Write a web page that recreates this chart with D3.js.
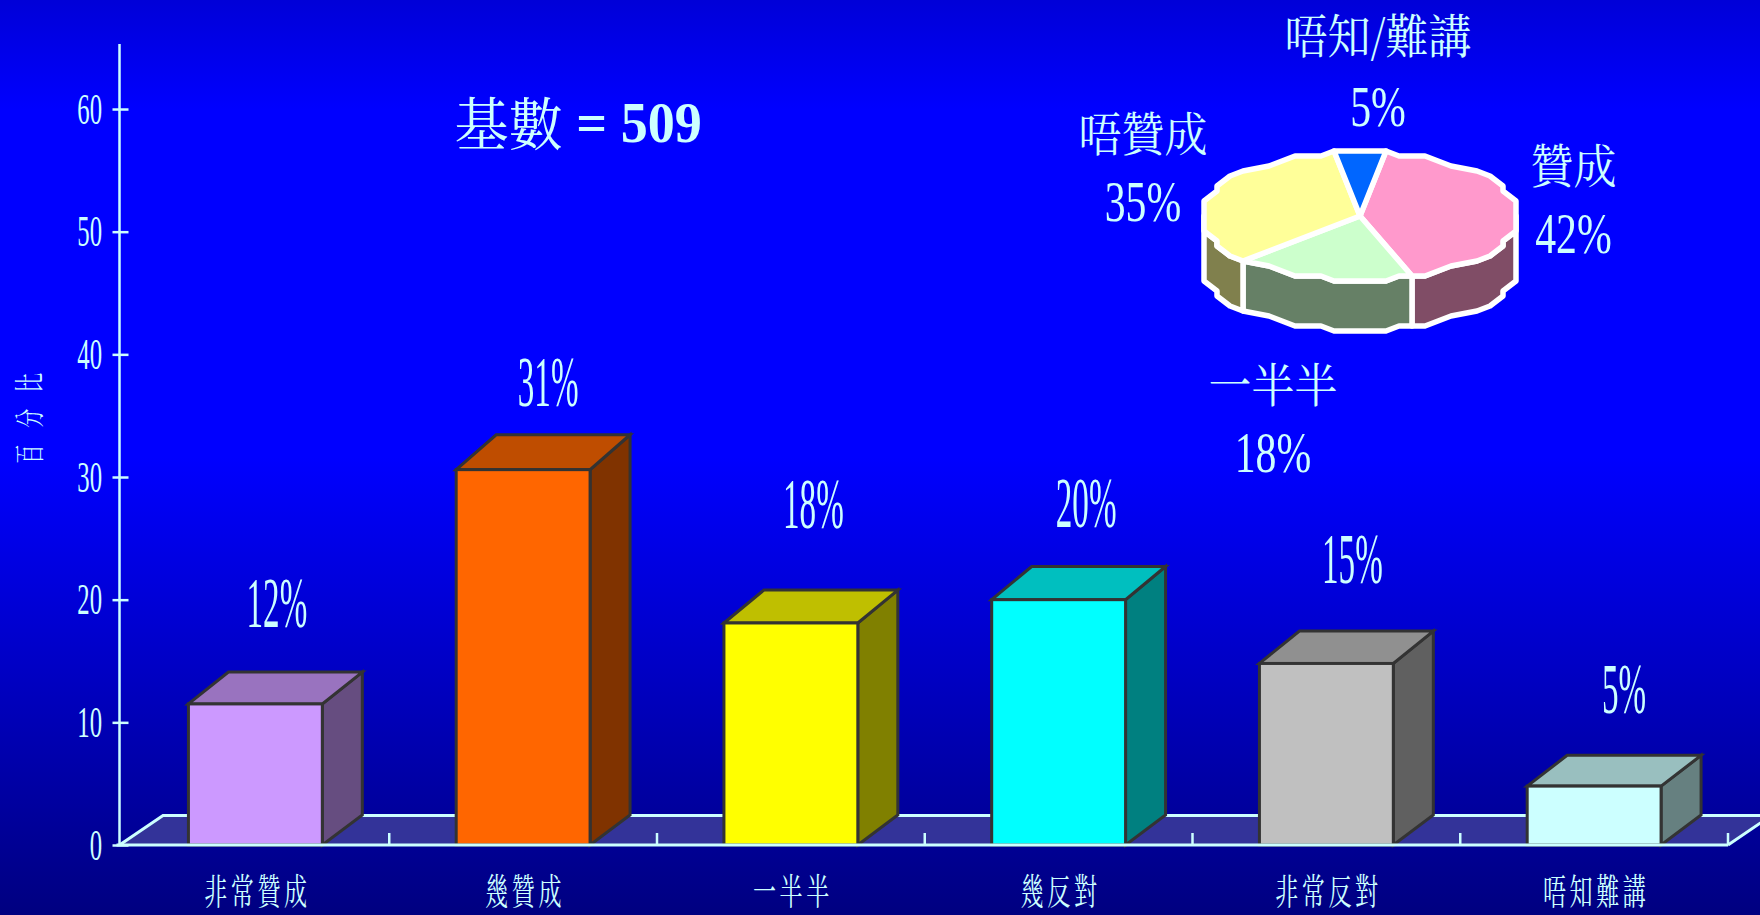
<!DOCTYPE html>
<html><head><meta charset="utf-8">
<script src="https://cdn.jsdelivr.net/npm/d3@7"></script>
<style>html,body{margin:0;padding:0;background:#000080;overflow:hidden}svg{display:block}
text{fill:#ccffff}</style></head>
<body><svg id="c" width="1760" height="915"></svg>
<script>
const categories=["非常贊成","幾贊成","一半半","幾反對","非常反對","唔知難講"];
const barValues=[11.5,30.6,18.1,20,14.8,4.8];
const barColors=["#cc99ff","#ff6600","#ffff00","#00ffff","#c0c0c0","#ccffff"];
const yTicks=[0,10,20,30,40,50,60];
const pieLabels=["贊成","一半半","唔贊成","唔知/難講"];
const pieValues=[42,18,35,5];
const pieColors=["#ff99cc","#ccffcc","#ffff99","#0066ff"];

// hand-placed annotation nudges (layout, not data)
const valueLabelShift=[[21.5,-77],[25,-64],[22.5,-94.5],[27.5,-73],[26,-80.5],[30,-73]];
const pieLabelPos=[[1573.5,183,253],[1273,402,472],[1143,151,221],[1378,53,126]];

const CJK="'Noto Serif CJK TC','Noto Sans CJK TC',sans-serif";
const LAT="'Liberation Serif','Times New Roman',serif";
const ink="#ccffff";
const svg=d3.select("#c");
const defs=svg.append("defs");
const g=defs.append("linearGradient").attr("id","bg").attr("x1",0).attr("x2",0).attr("y1",0).attr("y2",1);
[[0,"#0000d8"],[0.12,"#0000ff"],[0.5,"#0000ff"],[1,"#000080"]].forEach(s=>g.append("stop").attr("offset",s[0]).attr("stop-color",s[1]));
svg.append("rect").attr("width",1760).attr("height",915).attr("fill","url(#bg)");

const y=d3.scaleLinear().domain([0,65.3]).range([845,44]);
const xAxisBand=d3.scaleBand().domain(categories).range([121.5,1728]);
const xBar=d3.scaleBand().domain(categories).range([121.5,1728]).paddingInner(.5).paddingOuter(.25);
const floorDx=43.5,floorDy=29.5,depthX=40;

function label(x,yy,s,size,sx,family,opts={}){
  const t=svg.append("text").attr("transform",`translate(${x},${yy}) scale(${sx},1)`)
    .attr("text-anchor",opts.anchor||"middle").style("font-family",family).style("font-size",size+"px").text(s);
  if(opts.spacing)t.style("letter-spacing",opts.spacing+"px");
  if(opts.weight)t.style("font-weight",opts.weight);
  return t;
}

// floor
const x0=y.range()[0];
const xL=119.5,xR=xAxisBand.range()[1];
svg.append("path").attr("fill","#333399")
 .attr("d",d3.line()([[xL,x0],[xL+floorDx,x0-floorDy],[xR+floorDx,x0-floorDy],[xR,x0]])+"Z");
svg.append("path").attr("fill","none").attr("stroke",ink).attr("stroke-width",3)
 .attr("d",d3.line()([[xL,x0],[xL+floorDx,x0-floorDy],[xR+floorDx,x0-floorDy],[xR,x0]]));

// x ticks on floor
svg.append("g").selectAll("line").data(categories).join("line")
 .attr("x1",d=>xAxisBand(d)+xAxisBand.bandwidth()).attr("x2",d=>xAxisBand(d)+xAxisBand.bandwidth())
 .attr("y1",x0).attr("y2",x0-12).attr("stroke",ink).attr("stroke-width",2.5);

// bars
const shade=(c,k)=>{const r=d3.rgb(c);return d3.rgb(r.r*k,r.g*k,r.b*k).formatHex();};
const line=d3.line();
categories.forEach((c,i)=>{
  const v=barValues[i],L=xBar(c),R=L+xBar.bandwidth(),T=y(v),B=y(0);
  const dy=30+v*.16, gb=svg.append("g").attr("stroke","#333333").attr("stroke-width",3).attr("stroke-linejoin","miter");
  gb.append("path").attr("fill",shade(barColors[i],.5)).attr("d",line([[R,T],[R+depthX,T-dy],[R+depthX,B-30],[R,B]])+"Z");
  gb.append("path").attr("fill",shade(barColors[i],.75)).attr("d",line([[L,T],[L+depthX,T-dy],[R+depthX,T-dy],[R,T]])+"Z");
  gb.append("rect").attr("x",L).attr("y",T).attr("width",R-L).attr("height",B-T).attr("fill",barColors[i]);
});

// axes
const ax=svg.append("g").attr("transform",`translate(${xL},0)`)
 .call(d3.axisLeft(y).tickValues(yTicks).tickSize(0).tickPadding(0).tickFormat(d3.format("d")));
ax.select(".domain").attr("stroke",ink).attr("stroke-width",2.5).attr("d",`M0,${y.range()[1]}V${x0}`);
ax.selectAll(".tick line").attr("x1",-7).attr("x2",9).attr("stroke",ink).attr("stroke-width",2.5);
ax.selectAll(".tick text").attr("x",null).attr("dy",null).attr("y",null)
 .attr("transform","translate(-17.5,14) scale(.55,1)").attr("text-anchor","end")
 .style("font-family",LAT).style("font-size","45px").style("fill",ink);

const xa=svg.append("g").attr("transform",`translate(0,${x0})`)
 .call(d3.axisBottom(xAxisBand).tickSize(0).tickPadding(0));
xa.select(".domain").attr("stroke",ink).attr("stroke-width",3).attr("d",`M${xL-3},0H${xR}`);
xa.selectAll(".tick text").attr("dy",null).attr("y",null)
 .attr("transform","translate(2,60) scale(.64,1)").attr("text-anchor","middle")
 .style("font-family",CJK).style("font-size","36px").style("letter-spacing","5.5px").style("fill",ink);

// axis title
svg.append("text").attr("transform","translate(40,410) rotate(-90) scale(.64,1)").attr("text-anchor","middle")
 .style("font-family",CJK).style("font-size","30px").style("letter-spacing","26px").text("百分比");

// value labels
categories.forEach((c,i)=>{
  const s=valueLabelShift[i];
  label(xAxisBand(c)+xAxisBand.bandwidth()/2+s[0],y(barValues[i])+s[1],Math.round(barValues[i])+"%",72,.46,LAT);
});

// base count
const base=svg.append("text").attr("transform","translate(454.5,142) scale(.95,1)").attr("text-anchor","start")
 .style("font-size","57px").style("font-family",LAT).style("font-weight","bold");
base.append("tspan").attr("dy",3).style("font-family",CJK).style("font-weight","normal").text("基數");
base.append("tspan").attr("dy",-3).text(" = 509");

// 3-D pie, drawn with a coarse outline like the source
const cx=1360,cy=216,rx=158,ry=64,pieDepth=50;
const q=(v,c,st)=>c+Math.round((v-c)/st)*st;
const pt=(a,dz=0)=>[q(cx+rx*Math.sin(a),cx,13),q(cy-ry*Math.cos(a),cy,5)+dz];
const deg=Math.PI/180,start=9.5*deg,gridStep=7.5*deg;
const arcs=d3.pie().sort(null).startAngle(start).endAngle(start+2*Math.PI)(pieValues);
const sample=(a0,a1)=>{
  const inner=d3.range(Math.floor(a0/gridStep)+1,Math.ceil(a1/gridStep)).map(k=>k*gridStep);
  return [a0,...inner,a1];
};
const pg=svg.append("g").attr("stroke","#ffffff").attr("stroke-width",5.5).attr("stroke-linejoin","round");
arcs.forEach((a,i)=>{
  const s=Math.max(a.startAngle,90*deg),e=Math.min(a.endAngle,270*deg);
  if(e>s){
    const pts=sample(s,e);
    pg.append("path").attr("fill",shade(pieColors[i],.5))
      .attr("d",line(pts.map(p=>pt(p)).concat(pts.slice().reverse().map(p=>pt(p,pieDepth))))+"Z");
  }
});
arcs.forEach((a,i)=>{
  pg.append("path").attr("fill",pieColors[i])
    .attr("d",line([[cx,cy]].concat(sample(a.startAngle,a.endAngle).map(p=>pt(p))))+"Z");
});

// pie labels
pieLabels.forEach((s,i)=>{
  const p=pieLabelPos[i];
  label(p[0],p[1],s,46.5,.925,CJK);
  label(p[0],p[2],pieValues[i]+"%",58,.72,LAT);
});
</script></body></html>
